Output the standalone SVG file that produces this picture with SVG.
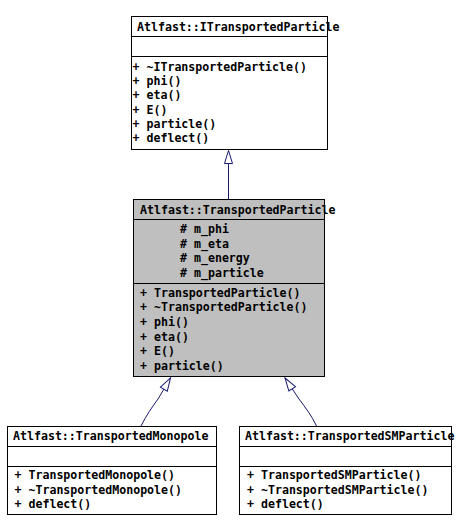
<svg xmlns="http://www.w3.org/2000/svg" width="457" height="532" viewBox="0 0 457 532">
<style>
text{font-family:"DejaVu Sans Mono","Liberation Mono",monospace;font-size:11.6px;font-weight:bold;fill:#000}
.box{fill:#fff;stroke:#000;stroke-width:1}
.gbox{fill:#bfbfbf;stroke:#000;stroke-width:1}
.sep{stroke:#000;stroke-width:1}
.edge{fill:none;stroke:#191970;stroke-width:1}
</style>
<defs>
<marker id="tri" markerUnits="userSpaceOnUse" markerWidth="16" markerHeight="12" viewBox="0 0 16 12" refX="14" refY="6" orient="auto">
<polygon points="1,2 14,6 1,10" fill="#fff" stroke="#191970" stroke-width="1"/>
</marker>
</defs>
<rect width="457" height="532" fill="#fff"/>
<g id="connectors">
<path class="edge" d="M228.5,199 L228.5,150.5" marker-end="url(#tri)"/>
<path class="edge" d="M141,426 C146,416 152,407 158,399 L170.5,378" marker-end="url(#tri)"/>
<path class="edge" d="M316.5,426 C312,416 305,407 299,399 L285,378" marker-end="url(#tri)"/>
</g>
<g id="ITransportedParticle">
<rect class="box" x="131.5" y="16.5" width="196" height="133"/>
<line class="sep" x1="131.5" y1="36.5" x2="327.5" y2="36.5"/>
<line class="sep" x1="131.5" y1="56.5" x2="327.5" y2="56.5"/>
<text x="137" y="30.5">Atlfast::ITransportedParticle</text>
<text x="132.5" y="71">+ ~ITransportedParticle()</text>
<text x="132.5" y="85">+ phi()</text>
<text x="132.5" y="99">+ eta()</text>
<text x="132.5" y="113.5">+ E()</text>
<text x="132.5" y="128">+ particle()</text>
<text x="132.5" y="142">+ deflect()</text>
</g>
<g id="TransportedParticle">
<rect class="gbox" x="133.5" y="199.5" width="191" height="177"/>
<line class="sep" x1="133.5" y1="219.5" x2="324.5" y2="219.5"/>
<line class="sep" x1="133.5" y1="283.5" x2="324.5" y2="283.5"/>
<text x="140" y="213.5">Atlfast::TransportedParticle</text>
<text x="180" y="233"># m_phi</text>
<text x="180" y="247.5"># m_eta</text>
<text x="180" y="262"># m_energy</text>
<text x="180" y="276.5"># m_particle</text>
<text x="140" y="297">+ TransportedParticle()</text>
<text x="140" y="311">+ ~TransportedParticle()</text>
<text x="140" y="326">+ phi()</text>
<text x="140" y="340.5">+ eta()</text>
<text x="140" y="355">+ E()</text>
<text x="140" y="369.5">+ particle()</text>
</g>
<g id="TransportedMonopole">
<rect class="box" x="7.5" y="426.5" width="209" height="88"/>
<line class="sep" x1="7.5" y1="446.5" x2="216.5" y2="446.5"/>
<line class="sep" x1="7.5" y1="466.5" x2="216.5" y2="466.5"/>
<text x="13" y="440">Atlfast::TransportedMonopole</text>
<text x="14.5" y="479">+ TransportedMonopole()</text>
<text x="14.5" y="493.5">+ ~TransportedMonopole()</text>
<text x="14.5" y="508">+ deflect()</text>
</g>
<g id="TransportedSMParticle">
<rect class="box" x="239.5" y="426.5" width="212" height="88"/>
<line class="sep" x1="239.5" y1="446.5" x2="451.5" y2="446.5"/>
<line class="sep" x1="239.5" y1="466.5" x2="451.5" y2="466.5"/>
<text x="245" y="440">Atlfast::TransportedSMParticle</text>
<text x="247" y="479">+ TransportedSMParticle()</text>
<text x="247" y="493.5">+ ~TransportedSMParticle()</text>
<text x="247" y="508">+ deflect()</text>
</g>
</svg>
